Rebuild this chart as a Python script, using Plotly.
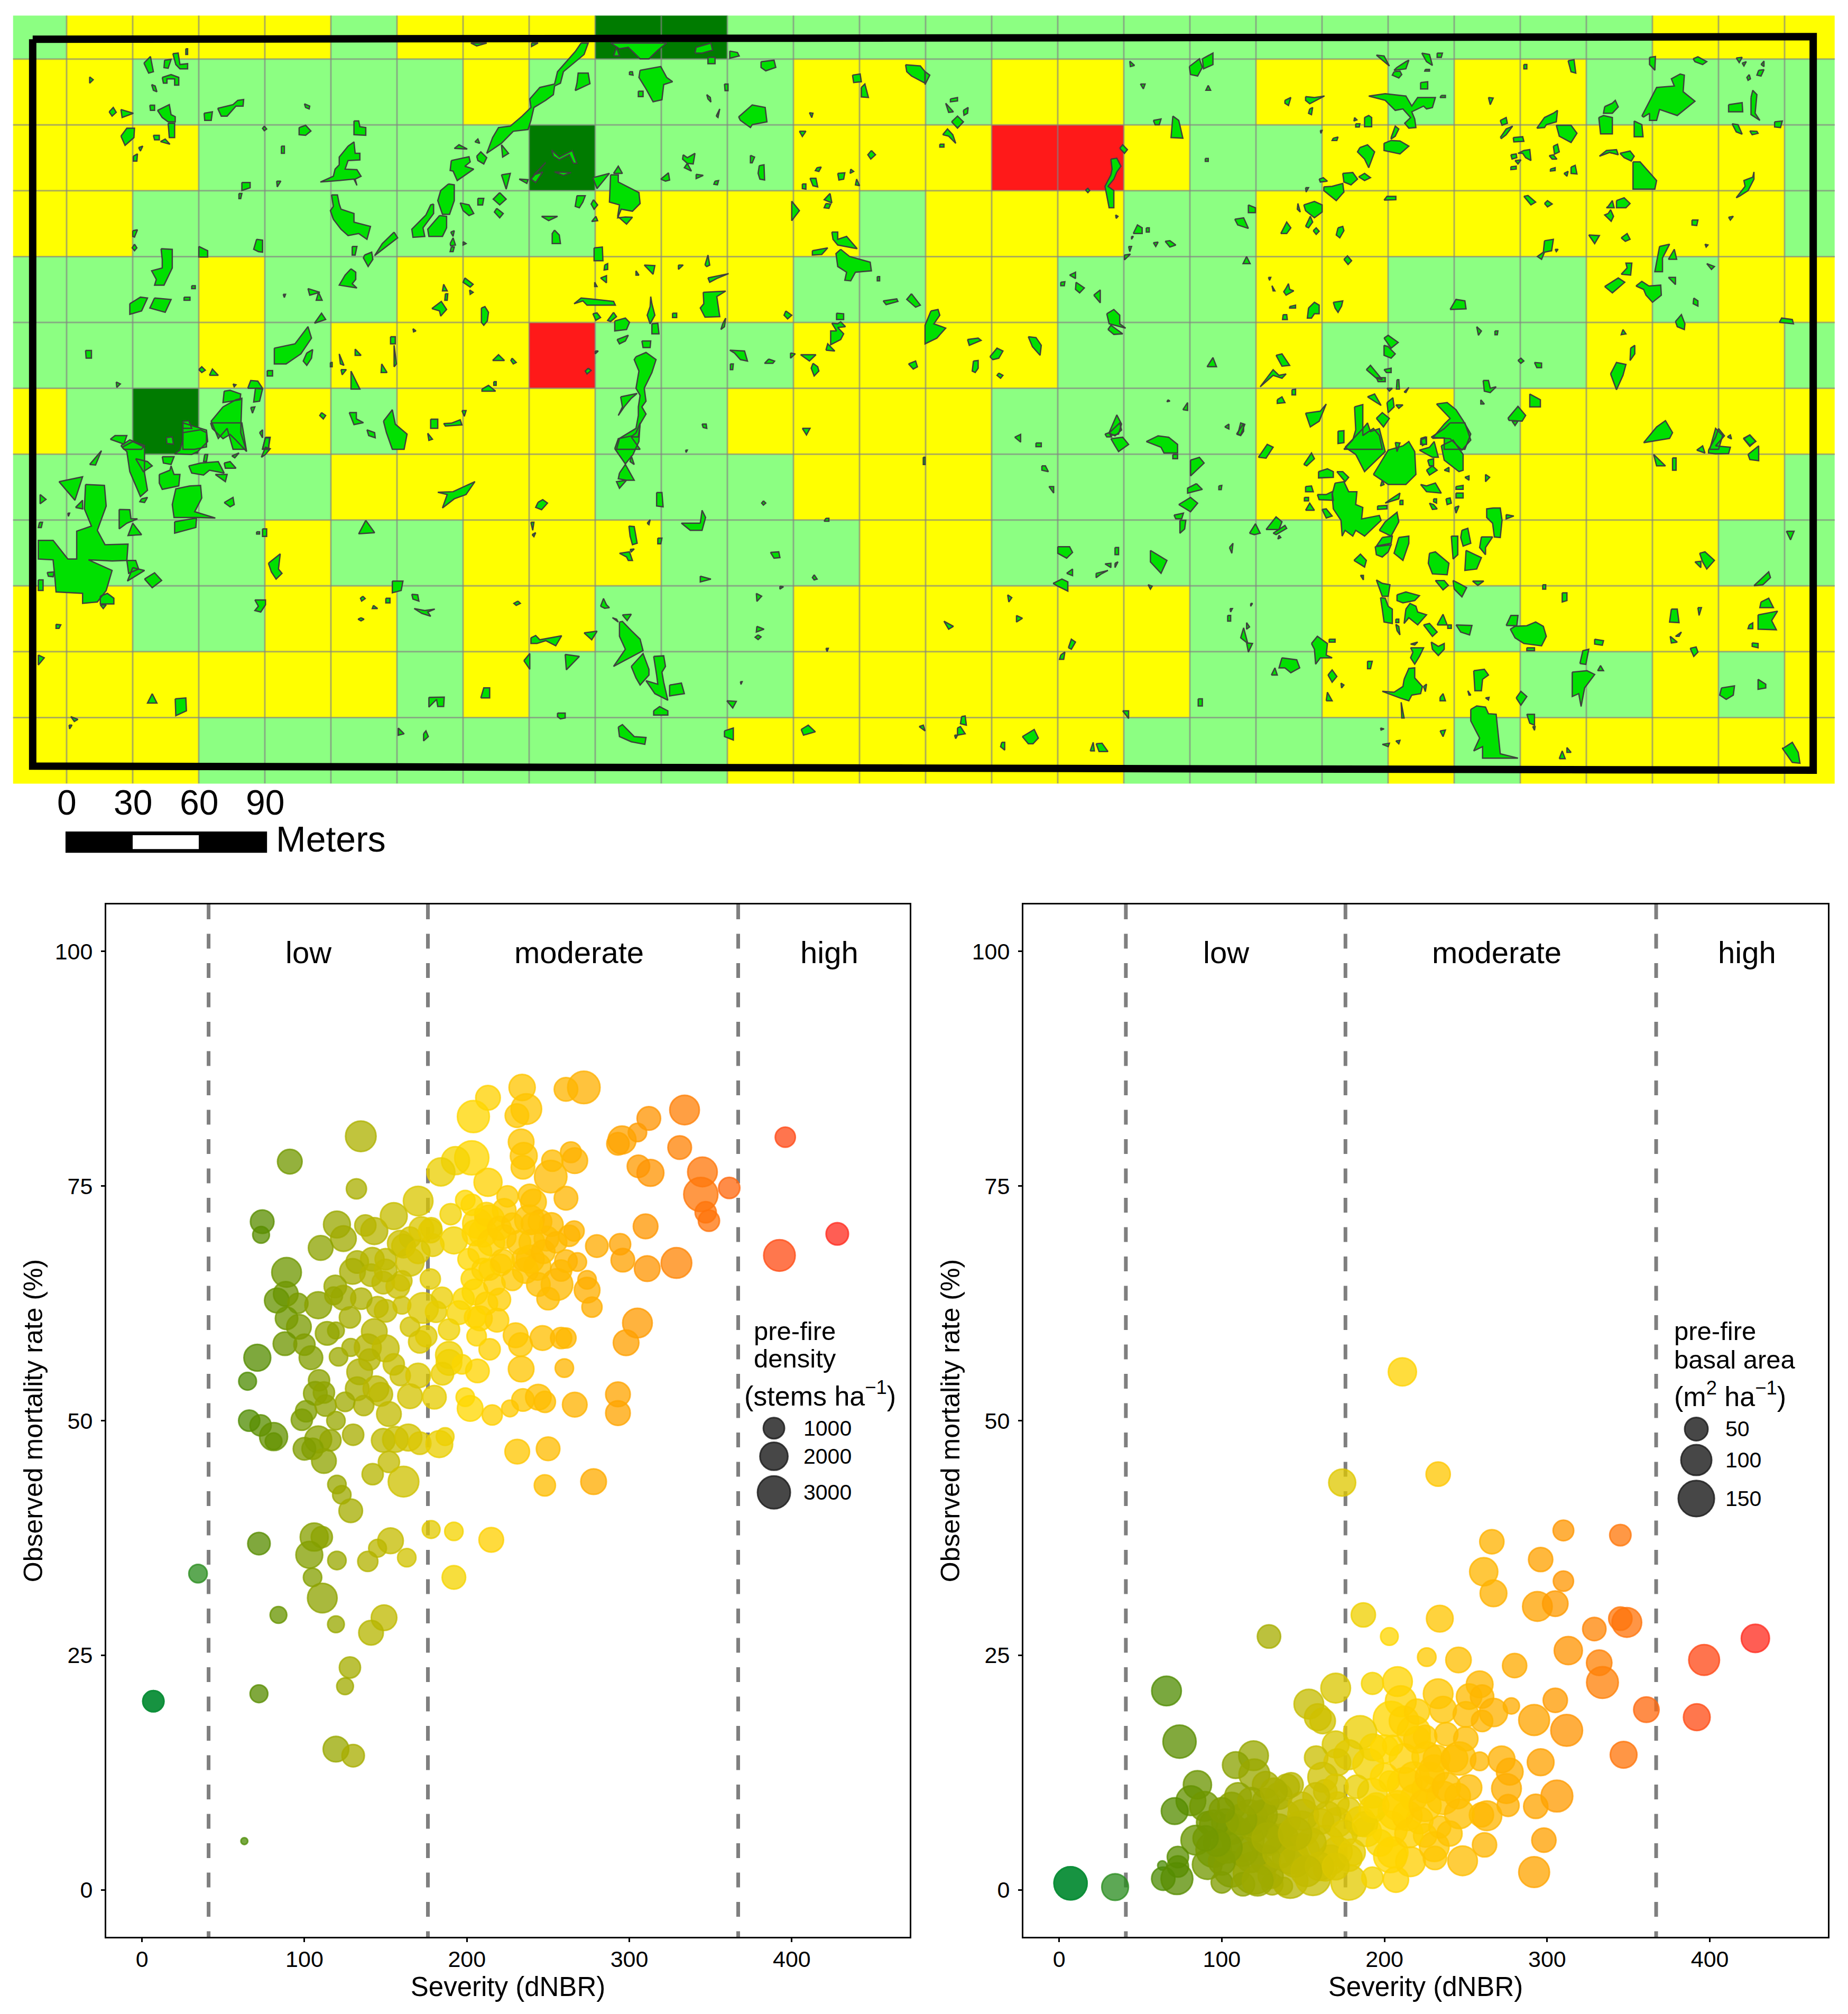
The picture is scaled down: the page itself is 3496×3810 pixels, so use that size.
import plotly.graph_objects as go

W, H = 3496, 3810

# ---------- study-plot map ----------
CELL_ROWS = [
    "LYYYYLYYYDDLLLLLLLLLLLLLLYYY",
    "YYLLLLLYLLLLYYLYYLLYYLYYLLLL",
    "YYYLLLLLDLLLYYYRRYLLYYYYYYYL",
    "YYLLLLLLLYYYYLYYYLLYYYYYYYYL",
    "LLLYLLYYYYYYLLYYLLLYYLLLYLYY",
    "LLLYLYYYRLLLYYYYLLLYLLLLYYYL",
    "YLDLYLYYYLLYYYYLLLLYYYLYYYYY",
    "LLLLLYYYYLLLYYYLLLLYYYYYYYYL",
    "LLLLYLLYYYLLLYYLLLLLYYYYYYLL",
    "YYLLYYLYYLLLYYYYYYLLYYLYYYYY",
    "YYYYYYLYLLLLYYYYYYLLYYYLLYLY",
    "YYYLLLLLLLLYYYYYYLLLLYLYYYYY",
]
CELL_CODE = {"Y": 1, "L": 2, "D": 3, "R": 0}
CELL_M = 30
X_EDGES = [-24.3] + [CELL_M * k for k in range(27)] + [802.8]
Y_EDGES = [CELL_M * k for k in range(12)] + [349.8]
BOUNDARY_X = [-15.4, 793.0, 793.0, -15.4, -15.4]
BOUNDARY_Y = [339.0, 340.2, 6.0, 7.9, 339.0]

# Stand patches, digitised on four map sheets (sheet units).
SHEET_NW = [
[798,150,808,160,825,150],[901,150,901,162,912,150],
[985,150,997,150,990,190,975,215,955,250,950,290,940,300,938,330,925,350,905,375,900,420,895,452,870,458,850,500,825,535,835,480,845,445,865,440,885,405,900,375,898,345,915,305,940,293,945,250,962,210,975,180],
[975,316,978,290,980,255,997,255,1000,292],[1035,150,1050,170,1065,165,1080,195,1085,205,1100,205,1115,175,1130,150],[1040,195,1045,165,1050,195],[1178,185,1180,165,1205,150,1208,175,1190,185],
[1237,178,1250,183,1253,195,1237,203],[1200,200,1212,200,1212,222,1200,222],[1290,215,1312,210,1315,235,1298,247,1290,235],[1535,226,1560,230,1568,250,1568,290,1545,265,1537,250],
[1445,262,1458,258,1460,285,1447,288],[1460,305,1466,293,1472,340,1460,338],[1067,250,1072,250,1073,262,1067,260],[1085,245,1120,232,1130,270,1140,285,1125,295,1122,348,1107,355,1095,310,1083,270],
[1082,318,1090,318,1090,337,1082,337],[1228,293,1234,293,1234,316,1229,316],[1198,330,1204,340,1205,356,1200,345],[1214,405,1220,380,1217,410],[1372,393,1378,395,1376,410],
[1252,408,1275,366,1297,375,1300,425,1275,435,1272,445,1255,420],[1355,458,1366,458,1360,476],[244,220,255,197,260,250,252,255],[279,210,290,207,285,238,278,236],[293,187,302,185,305,225,318,222,318,240,305,240,298,225],
[315,170,318,170,318,190,315,190],[152,268,158,278,152,290],[275,270,290,260,303,270,303,297,296,297,296,275,283,275,283,290,277,290],[257,295,263,300,266,320,260,315],
[185,390,192,375,197,392,190,405],[205,382,226,395,207,410],[254,367,262,367,262,385,255,385],[267,385,287,365,290,400,297,407,297,425,285,425,275,410],[285,430,296,430,296,480,287,480],[346,395,360,390,358,420,347,420],
[369,378,395,365,403,350,413,347,412,370,400,370,385,405,375,405],[516,362,525,370,524,380,518,375],[205,475,215,447,228,447,227,480,212,507],[260,472,270,472,270,488,262,488],[272,494,280,485,288,503],[235,515,242,510,238,527],
[226,545,233,537,232,562,226,562],[448,440,452,450,448,456,445,448],[507,445,518,437,527,457,518,472,507,470],[600,422,608,422,610,442,620,445,620,472,600,470],[477,510,482,510,482,535,477,535],
[590,510,600,495,602,535,610,535,610,558,590,560,585,590,605,592,612,615,602,625,605,647,600,625,575,630,543,635,565,615,568,590,575,575,575,548],
[410,637,424,637,424,655,410,665],[405,675,410,675,408,693,405,693],[469,632,476,632,470,652],[805,495,810,485,813,500],[770,518,778,505,792,520],[765,560,795,547,797,565,788,580,803,590,775,630,768,597,763,595],
[808,545,815,530,825,550,820,572,810,560],[850,505,862,535,852,548],[850,610,865,605,858,660],[880,625,895,627,893,640],[935,523,948,548,970,525,978,570,972,570,965,540,948,558,938,545],[925,567,905,610,920,600,908,637,900,625],
[940,600,968,602,955,612],[1005,620,1033,605,1012,658],[1040,605,1048,580,1055,605],[1035,610,1048,610,1048,635,1083,672,1085,710,1072,737,1053,730,1047,760,1060,757,1072,758,1062,782,1047,755,1050,715,1033,705],
[1158,540,1165,550,1178,535,1175,572,1165,570,1172,597,1160,585,1165,570,1157,555],[1120,625,1133,603,1135,628,1128,632],[1180,608,1192,612,1180,623],[1212,632,1218,630,1216,645,1210,643],[1272,542,1279,548,1275,568,1272,568],
[1287,578,1295,575,1296,628,1288,625,1285,605],[1477,525,1484,540,1476,555,1471,540],[1360,642,1366,642,1366,660,1360,658],[1373,622,1383,622,1386,652,1378,648],[1385,585,1392,583,1388,598,1382,595],[1420,605,1432,603,1430,625,1422,628],
[1442,590,1447,598,1441,605],[1452,625,1457,648,1450,645],[562,680,572,680,575,712,578,730,600,745,600,775,628,790,622,835,608,815,590,822,578,800,565,765,560,735,565,720],
[760,642,770,645,770,700,762,748,750,748,742,700,747,665],[735,712,735,745,717,795,720,825,700,828,698,800,722,750,730,715],[745,752,757,755,757,795,750,825,727,825,725,800],[780,708,795,715,803,745,795,752,785,735],
[810,692,820,692,818,715,810,715],[847,672,858,695,847,715,836,695],[842,727,853,745,847,760,838,740],[978,683,992,683,988,705,982,725,975,720],[1006,697,1013,715,1007,730,1002,712],[918,755,945,755,930,770],[1010,755,1013,770,1003,773],
[940,803,948,820,950,850,936,850,936,815],[225,805,233,802,228,827,225,825],[228,852,232,865,228,875,224,865],[273,868,292,870,292,935,278,995,262,995,265,975,257,945,275,935,275,905],[337,860,352,875,352,897,337,897],
[435,835,445,838,445,880,438,878,430,870],[597,860,605,860,602,890,597,890],[668,810,674,830,635,892,648,850],[618,890,630,880,632,905,624,930,616,900],[764,810,770,805,768,825],[763,850,768,830,772,855,764,858],[765,862,770,862,768,878,763,878],
[785,843,790,850,785,855],[1007,865,1021,862,1022,910,1007,910],[1025,925,1030,920,1030,940,1024,942],[1092,925,1110,927,1107,957],[1078,945,1083,960,1078,960],[1018,970,1028,962,1028,987],[1008,985,1012,1000,1008,1000],[1150,925,1158,925,1150,940],
[1195,925,1200,890,1203,925,1198,930],[1200,970,1235,955,1215,972,1203,985],[1192,1020,1230,1016,1215,1035,1220,1105,1195,1107,1187,1075,1193,1060],[973,1060,985,1040,1010,1045,1040,1052,1043,1065,995,1065,988,1050],
[1005,1095,1012,1092,1018,1108,1010,1118],[1040,1090,1045,1105,1035,1122,1030,1118],[1103,1035,1105,1060,1110,1100,1102,1130,1097,1100,1102,1070],[1140,1093,1147,1093,1147,1108,1140,1108],[1105,1130,1115,1128,1117,1165,1105,1165],
[1042,1120,1060,1110,1067,1125,1062,1150,1042,1155],[1046,1185,1065,1170,1060,1190,1050,1200],[1088,1190,1103,1190,1102,1213,1090,1213],[1225,1130,1230,1110,1228,1140,1222,1150],[1009,1225,1014,1225,1009,1235],[997,1285,1002,1293,995,1305,992,1295],
[1078,1245,1095,1230,1112,1255,1105,1300,1092,1355,1095,1400,1088,1420,1095,1445,1085,1480,1082,1525,1070,1525,1085,1568,1045,1568,1050,1530,1078,1495,1082,1450,1082,1420,1085,1380,1078,1355,1083,1295,1075,1255],
[1052,1385,1080,1373,1070,1390,1058,1420,1048,1450,1055,1420],[1190,1480,1197,1480,1198,1495,1192,1492],[1360,1495,1373,1495,1367,1518],[1497,1050,1520,1043,1522,1052,1502,1063],[1545,1025,1560,1065,1552,1072,1537,1045],[1487,965,1491,965,1491,980,1487,980],
[1410,810,1420,810,1420,835,1435,825,1453,868,1420,855,1412,835],[1377,875,1403,865,1393,888,1377,890],[1425,870,1440,895,1475,915,1477,945,1450,950,1442,980,1432,978,1435,950,1420,930,1417,885],[1342,702,1355,735,1342,770],[1407,675,1410,708,1397,697],[1400,710,1408,712,1405,727,1397,725],
[1332,1085,1342,1100,1335,1113,1329,1100],[1418,1093,1430,1095,1430,1115,1418,1115],[1410,1128,1420,1130,1425,1123,1433,1140,1420,1143,1430,1165,1425,1185,1408,1203,1408,1155,1418,1155],[1400,1222,1415,1225,1403,1200],[1340,1232,1348,1235,1340,1250],[1357,1238,1383,1238,1372,1260],
[1378,1268,1386,1280,1388,1295,1380,1312,1375,1285],[1540,1270,1552,1260,1555,1280,1548,1288],[1303,1253,1313,1260,1310,1268,1296,1268],[1237,1222,1262,1225,1267,1260,1255,1255,1245,1232],[1238,1270,1243,1270,1242,1290,1238,1290],
[145,1223,155,1223,155,1250,146,1250],[197,1333,204,1340,198,1352],[220,1060,238,1037,250,1040,240,1085,220,1097],[262,1040,290,1045,280,1090,254,1075],[312,1037,322,1037,322,1048,312,1048],[325,997,331,997,331,1007,325,1007],[480,1027,484,1027,482,1038],
[522,1007,542,1020,525,1030],[540,1020,546,1048,536,1048],[533,1128,545,1093,552,1115],[595,938,603,950,603,975,597,990,605,1005,575,995,585,960],[752,992,758,1015,750,1015],[755,1025,759,1025,758,1048,754,1048],[732,1077,748,1052,757,1080,747,1103,745,1085],
[788,970,802,992,797,1002,785,985],[796,1012,802,1020,797,1027],[816,1075,822,1070,828,1090,826,1120,820,1135,816,1125],[700,1147,705,1155,701,1158],[465,1215,500,1200,522,1140,528,1180,510,1235,485,1270,465,1270],[520,1232,530,1220,528,1250,520,1275,514,1260],
[575,1235,583,1275,577,1270],[560,1265,563,1265,563,1280,560,1280],[578,1290,587,1290,580,1308],[602,1218,612,1240,602,1240],[595,1295,608,1350,610,1358,595,1358],[662,1175,670,1175,670,1200,662,1200],[668,1205,672,1270,668,1280],[647,1270,656,1300,646,1300],
[835,1258,845,1238,855,1258],[868,1250,875,1265,870,1270,866,1258],[837,1332,841,1332,841,1345,837,1345],[817,1358,828,1345,840,1365,817,1365],[453,1293,462,1293,462,1312,453,1312],[337,1290,342,1280,348,1292,342,1300],[355,1310,360,1288,370,1310],[395,1340,400,1343,397,1350],
[420,1355,425,1328,437,1330,445,1355],[433,1355,445,1358,440,1400,430,1403],[380,1365,390,1362,408,1375,407,1395,378,1405],[378,1420,400,1395,410,1390,408,1510,417,1568,395,1568,385,1495,370,1530,358,1470],[425,1422,432,1420,428,1442],[440,1510,445,1500,445,1528],[450,1528,457,1528,455,1568,445,1568],
[310,1470,320,1468,325,1495,310,1495],[545,1440,552,1450,548,1462,542,1450],[592,1440,604,1440,604,1462,616,1475,600,1482],[622,1500,635,1510,636,1528,625,1520],[650,1470,665,1430,670,1480,690,1515,685,1568,665,1568,655,1510],[730,1463,742,1463,742,1495,730,1495],[752,1478,765,1477,780,1465,783,1483,755,1487],
[783,1433,790,1433,787,1453],[725,1512,733,1533,727,1537],[282,1527,292,1525,294,1550,283,1548],[310,1510,340,1500,350,1510,350,1560,330,1568,310,1568],[187,1533,195,1520,215,1520,210,1550],[205,1555,220,1535,245,1555,240,1568,210,1568],
]
SHEET_SW = [
[310,0,350,25,352,65,335,100,325,110,296,108,305,95,310,60],[357,0,410,0,418,100,400,60,390,40,378,55,360,20],[393,115,405,105,398,122],[347,110,352,110,350,135,345,135],[443,120,450,85,458,90,450,110],[450,50,458,50,455,90,445,90],[152,145,172,97,162,147],
[207,85,225,65,245,85,245,175,250,235,238,257,220,170,215,100],[230,125,250,135,258,150,243,170],[275,118,295,118,290,145,277,140],[270,180,288,165,290,150,295,180,305,180,303,220,275,232,270,210],[320,150,340,140,370,135,380,175,355,165,345,182,325,175],[380,140,390,135,400,158,382,158],[365,180,385,180,382,205],
[100,205,140,188,127,270],[145,215,177,218,180,290,165,375,178,425,217,423,215,480,190,482,150,478,190,515,185,550,180,585,165,625,140,630,140,595,95,590,93,540,90,478,65,475,65,410,90,410,115,475,130,475,130,378,155,360,143,300],
[128,295,140,270,140,300],[68,250,78,267,68,282],[115,315,118,315,116,326],[322,220,340,218,342,262,330,310,365,332,335,330,295,330,292,285,298,230],[202,302,220,303,222,335,233,335,215,350,202,370],[225,350,240,390,217,393],[296,345,333,332,332,365,296,385],[240,265,250,260,245,278,237,275],[380,278,395,260,397,285,390,293],[67,347,72,347,70,365,65,365],
[445,370,452,370,452,396,445,396],[435,380,440,380,440,388,435,388],[620,340,635,383,608,387],[455,490,475,457,472,510,478,525,468,545,460,520],[225,505,245,515,216,552],[215,480,230,480,235,510,218,525],[245,545,262,523,274,550,258,575],[80,522,92,520,90,537,82,535],[65,548,73,548,73,585,65,585],[170,605,182,595,193,612,193,632,170,632],[170,635,180,635,175,648],
[432,618,450,618,450,635,442,660,432,655,438,640],[95,703,103,705,100,717,95,717],[65,810,75,820,65,845],[120,1025,132,1035,126,1042],[117,1055,122,1055,118,1068],[258,945,266,978,250,978],[297,963,315,960,316,1005,298,1022],[665,552,683,552,680,585,665,593],[615,605,619,613,613,622,611,612],[654,612,661,612,661,628,654,628],[633,637,640,648,631,648],[612,680,617,685,612,691,607,685],
[698,598,708,600,710,622,700,615],[702,648,720,655,737,650,725,660,730,675,715,665],[742,242,768,240,805,205,790,250,770,265,750,297,758,250],[912,277,920,268,928,280,918,303,908,295],[900,347,905,347,903,375],[902,390,908,383,905,397],[878,622,882,630,875,637,871,630],[900,750,908,742,915,757,935,750,952,743,942,778,925,760,910,770,900,770],[990,733,1012,727,1003,757],[888,830,898,805,898,860],[958,808,982,815,960,862],
[1018,640,1023,613,1028,635,1033,645,1025,647],[1055,670,1070,668,1063,690],[1038,680,1045,685,1048,695],[1050,695,1055,693,1070,725,1085,755,1090,795,1040,850,1060,790,1050,745],[1070,850,1090,805,1100,860,1100,880,1085,915,1078,890],[1108,815,1125,813,1128,850,1122,870,1125,905,1132,968,1110,945,1095,900,1115,912,1113,880],[1135,915,1155,908,1160,945,1135,953],[1108,1005,1118,990,1132,1005,1132,1020,1108,1020],[945,1013,958,1013,958,1030,950,1033,945,1025],
[815,960,820,925,830,925,830,960],[727,958,753,957,752,990,742,990,740,965,727,992],[1113,243,1122,243,1124,293,1113,290],[1187,350,1190,305,1196,330,1190,375,1170,375,1155,350],[1294,272,1298,280,1294,287,1291,280],[1400,333,1405,333,1405,343,1397,343],[1066,360,1075,362,1080,420,1072,425,1068,395],[1097,350,1102,338,1100,355],[1115,402,1122,402,1120,422,1115,422],[1050,455,1067,450,1072,480,1065,480,1062,468],[1068,442,1075,440,1070,450],
[1306,452,1320,450,1322,470,1312,472],[1380,530,1385,545,1380,548,1377,540],[1187,535,1205,545,1187,555],[1282,595,1291,605,1283,623],[1322,570,1328,572,1322,580],[1283,710,1295,720,1282,730],[1285,740,1290,747,1285,756,1280,748],[1400,787,1404,787,1402,798],[1255,903,1258,903,1256,913],[1232,970,1248,972,1242,995],
[1228,1075,1243,1065,1243,1107,1228,1095],[1048,1062,1055,1053,1075,1095,1095,1098,1093,1122,1070,1113,1050,1095],[675,1065,685,1085,675,1090],[718,1085,722,1075,726,1095,718,1110],[1358,1070,1370,1055,1382,1078,1362,1090],[1558,1060,1565,1055,1568,1075],[1565,120,1568,120,1568,145,1565,145],[1162,95,1165,95,1163,103],[1042,90,1048,55,1072,45,1078,35,1085,0,1083,65,1073,110,1060,143],[1070,115,1075,145,1068,135],[1050,175,1060,145,1075,200,1062,200,1050,228,1045,205,1062,200,1048,195],
]
SHEET_NE = [
[448,232,465,205,470,235,462,265,450,260],[470,205,488,185,488,225,472,240],[347,213,355,228,348,232],[365,293,373,293,370,310],[480,298,484,315,476,315],[765,192,778,195,787,230,775,210],[800,235,815,215,820,210,815,240,795,245],[795,250,805,248,808,260,803,272,792,262],[842,185,855,190,860,228,850,215],[868,185,877,185,875,200,868,200],[848,242,855,242,855,248,847,248],[840,288,852,285,852,310,840,310],[875,333,882,333,882,340,873,340],
[610,350,620,340,616,368,610,360],[645,337,660,340,677,335,652,362,645,350],[652,380,657,375,655,400,650,395],[752,335,780,327,815,335,825,370,835,340,865,340,860,375,850,380,845,370,825,390,830,415,832,445,820,447,813,430,823,410,810,380,797,385,780,350],[728,410,732,418,727,422],[745,410,752,403,757,410,757,442,745,442],[730,432,737,432,736,443,730,443],[955,340,963,342,958,365],[1015,225,1020,225,1020,240,1015,240],[1090,212,1100,208,1103,255,1095,250],
[975,420,985,410,987,430,978,437],[1037,447,1050,410,1065,395,1072,385,1070,425,1053,435,1050,445],[1070,437,1095,437,1105,465,1095,497,1075,475],[1142,410,1150,403,1165,410,1165,467,1145,467],[1152,372,1165,360,1170,350,1175,373,1165,395,1150,395],[1202,422,1215,435,1217,477,1202,477],[1228,200,1238,197,1237,245,1228,225],[1302,205,1310,198,1325,215,1318,225,1305,215],[1375,202,1385,200,1380,218],[1385,220,1392,215,1388,230],[1417,225,1422,213,1422,232],[1413,245,1422,243,1417,265,1410,262],[1397,260,1399,275,1395,280,1393,270],
[1215,405,1240,305,1270,300,1265,275,1280,258,1287,262,1285,320,1305,353,1275,403,1245,382,1240,420,1228,420,1228,395,1218,408],[1362,365,1385,358,1386,390,1362,390],[1400,340,1403,315,1410,330,1407,395,1415,420,1400,400],[1440,425,1453,422,1450,445,1440,443],[1368,432,1378,435,1385,468,1375,460],[1398,457,1410,458,1412,465,1402,470],[387,420,400,415,397,435,390,435],[420,405,430,420,437,482,417,480],[975,480,985,450,996,440,985,470,977,483],[997,480,1013,477,1015,493,998,495],
[1065,510,1072,503,1075,530,1067,538],[1058,543,1065,540,1071,555,1063,555],[1005,535,1015,525,1025,522,1027,560,1018,550,1013,535],[993,540,1002,537,1003,550,995,555],[1000,560,1010,558,1005,572],[993,582,1002,580,1002,590,993,592],[1060,590,1068,585,1068,595,1060,597],[1083,605,1090,598,1088,615],[1095,583,1102,577,1105,607,1095,605],[1143,545,1155,525,1172,522,1175,540,1160,532],[1178,535,1195,527,1202,545,1197,562,1185,550],[1200,565,1212,565,1240,630,1237,660,1200,660],[1380,685,1375,690,1390,650,1388,630,1403,618,1405,600,1405,625,1395,665],
[790,480,797,440,803,450,797,475,790,485],[692,482,700,478,698,490,690,490],[670,455,673,455,671,465],[778,500,790,490,805,492,820,510,805,537,790,530,778,525],[737,515,750,505,762,530,752,585,745,555,733,530],[708,605,725,602,733,625,722,645,710,635],[735,617,745,605,755,620,745,630],[668,625,675,620,682,632,670,635],[645,655,650,655,646,670],[676,652,690,650,708,640,710,670,697,700,676,665],[778,698,783,685,798,685,798,697],[330,517,335,505,343,522,338,535],
[315,555,325,552,332,580,325,600,320,625,310,650,320,665,320,725,312,725,305,650,315,610,317,590],[272,663,276,657,279,665,276,672],[323,750,327,755,324,762],[475,553,480,553,480,563,475,563],[30,470,38,450,47,470,52,500,40,475],[25,503,32,503,32,513,25,513],[35,360,48,390,40,392],[43,345,55,340,55,352,43,355],[65,385,73,375,72,395,66,402],[45,425,55,405,65,425,55,447],[0,250,8,262,0,295],
[548,715,560,725,560,742,548,742],[642,715,660,703,673,715,673,740,660,760,645,735],[632,710,636,740,631,730],[525,765,540,760,548,797,530,785],[645,790,653,755,657,775,650,795],[603,815,613,775,620,795,613,815],[658,805,663,795,668,807,663,818],[700,795,708,790,710,805,703,830,697,820],[353,815,360,785,368,795,368,815],[375,795,380,795,380,810,375,810],[350,825,353,825,350,835],[345,860,350,860,347,878],[387,847,395,845,391,860],[407,842,415,840,425,855,415,862],[338,890,348,887,338,907],
[545,895,551,920,539,920],[710,905,716,893,723,910,717,923],[1015,685,1022,682,1035,705,1027,715],[1050,710,1055,700,1063,712,1055,722],[1158,720,1165,700,1168,725,1155,725],[1172,700,1185,690,1195,710,1188,725,1172,725],[1158,745,1162,732,1167,755,1163,772,1152,750],[1300,768,1310,768,1308,787,1300,785],[1362,758,1370,755,1365,768],[1125,820,1143,822,1135,850],[1180,830,1190,815,1195,835,1187,842],[1322,852,1327,855,1324,862],[1068,870,1073,870,1070,878],[1050,840,1065,835,1062,875,1050,880,1045,905,1038,895,1048,880],[1245,860,1262,852,1250,900,1250,948,1237,948],[1260,905,1270,870,1274,905],[1325,920,1338,930,1333,940],
[1180,957,1190,935,1188,918,1198,918,1196,960],[1152,1000,1175,970,1186,985,1165,1022],[1205,998,1215,982,1227,998,1247,995,1248,1030,1233,1055,1222,1030,1218,1010],[1260,968,1272,968,1272,993],[1303,1040,1310,1050,1310,1068,1302,1060],[245,960,255,950,255,972],[230,985,237,983,236,997,230,997],[256,985,270,1005,262,1022,255,1010],[286,1030,297,1012,297,1057],[582,968,586,968,584,978],[588,997,593,1015,590,1015],[612,1005,616,990,618,1010,625,1015,612,1030,608,1018],[618,1070,628,1065,628,1075,618,1075],[650,1075,660,1055,668,1065,668,1095,660,1095,655,1110,648,1110],[607,1098,613,1098,614,1115,606,1115],[692,1055,708,1050,706,1068,700,1090,695,1075],
[890,1080,900,1045,915,1050,917,1078],[1448,1125,1452,1110,1470,1115,1472,1130],[1272,1122,1282,1098,1288,1130,1287,1150,1275,1140],[308,1095,320,1080,330,1100,330,1130,340,1145,312,1130],[310,1150,315,1135,335,1165,320,1167],[10,1085,22,1080,25,1100,15,1130,35,1145,20,1180,0,1200,0,1135],[72,1185,90,1180,95,1188,75,1205],[175,1175,188,1178,197,1205,195,1240,182,1210],[110,1245,122,1215,132,1225,125,1250,115,1255],[82,1260,90,1258,90,1285,85,1300,80,1295],[125,1302,132,1310,128,1320,122,1310],
[478,1280,488,1248,494,1280],[595,1240,605,1235,618,1275,605,1278],[568,1350,590,1290,600,1310,612,1305,605,1320,590,1310],[935,1140,943,1155,938,1170],[966,1155,971,1155,970,1168,966,1168],[778,1180,785,1170,802,1195,790,1215],[778,1205,785,1210,797,1235,790,1250,778,1240],[778,1290,790,1285,790,1300,782,1300],[748,1290,755,1275,775,1325,765,1320],[765,1318,780,1318,780,1332,768,1332],[800,1325,803,1325,804,1358,799,1358],[783,1355,792,1355,787,1365],[812,1368,820,1352,815,1370],[1005,1258,1010,1250,1015,1260,1010,1268],[1033,1265,1045,1267,1045,1283,1037,1283],[1183,1150,1188,1165,1180,1168],[1196,1215,1203,1205,1203,1235,1195,1258],[1162,1305,1172,1265,1188,1272,1183,1310,1172,1360],[946,1328,955,1328,958,1355,968,1350,958,1370,948,1365],
[622,1360,628,1358,628,1378,622,1378],[597,1395,605,1385,610,1405,597,1408],[412,1395,415,1400,410,1402],[437,1430,445,1405,445,1432],[645,1442,670,1435,680,1410,668,1470,653,1490],[750,1385,762,1375,773,1415,757,1395],[783,1405,793,1388,795,1420,785,1440],[798,1413,810,1413,803,1425],[765,1460,775,1440,787,1460,777,1490],[728,1420,742,1412,742,1520,760,1495,770,1520,775,1568,710,1568,725,1535,730,1500],[700,1505,710,1503,710,1545,700,1548],
[867,1410,885,1405,900,1430,912,1468,925,1515,915,1568,880,1568,880,1528,860,1530,880,1480,890,1460],[840,1530,848,1525,850,1548,843,1555],[1025,1375,1043,1395,1043,1420,1025,1420],[988,1460,1005,1418,1018,1450,1012,1470,990,1467],[995,1470,1005,1470,1000,1485],[942,1395,948,1410,942,1410],[1218,1545,1240,1490,1255,1468,1267,1510,1262,1530],[312,1510,325,1448,333,1480,328,1515,315,1520],[305,1515,312,1510,316,1525,308,1525],[508,1490,515,1480,515,1497],[528,1515,540,1478,540,1505,535,1520],[1330,1568,1340,1495,1352,1520,1345,1568],[1387,1530,1398,1518,1408,1540,1398,1558],[1360,1525,1365,1518,1367,1532],
]
SHEET_SE = [
[152,50,162,40,162,67],[188,70,197,70,197,83,188,83],[530,40,535,0,542,5,535,42],[312,35,330,0,333,25,322,45],[315,55,335,50,345,75,328,100,322,80],[375,65,395,45,413,50,428,75,428,105,405,105,400,85],[420,110,428,110,428,125,420,125],[565,120,580,75,590,85,578,123],[642,145,655,105,660,125,647,150],[450,130,465,120,473,140,450,185],[198,150,204,150,209,170,198,165],[210,222,218,222,218,245],[460,212,470,232,445,245,445,228],[498,220,503,218,502,233,498,233],[430,285,450,260,462,280,450,310],[422,322,438,315,435,335,425,335],[432,340,442,340,440,370,432,385],
[712,85,742,20,750,0,755,30,770,20,780,100,745,170,730,110],[760,180,785,95,810,80,820,65,830,100,832,180,815,215,785,215],[797,68,805,70,800,100],[775,200,778,215,772,220],[838,95,855,85,863,65,870,120,860,120],[840,60,850,50,850,75,840,75],[875,80,895,60,905,90,912,110,912,165,905,170,880,130],[890,0,915,0,925,60,910,95,890,55,858,50,880,20],[852,130,862,125,862,150,855,150],[850,165,860,150,868,165,855,182],[880,165,888,155,888,170],[915,190,922,185,922,200],[950,180,957,190,950,205],[840,215,850,220,865,210,875,245,850,240],[900,222,912,218,912,232,900,232],[900,245,912,245,912,262,900,262],[790,265,805,245,803,265,780,280],[805,270,810,270,810,285,805,285],[862,265,867,265,867,280,862,275],[883,265,890,262,892,280,885,285],[855,280,862,285,868,300,860,302],[898,295,905,290,900,315],
[667,170,682,160,692,170,692,190,667,192],[698,170,708,170,718,190,712,205],[645,222,655,220,658,240,645,240],[665,250,680,250,690,240,692,270,668,268],[643,260,650,260,650,272,643,272],[645,305,652,280,660,305],[673,302,680,300,690,325,680,332],[695,210,710,205,718,240,732,240,730,285,742,295,740,335,770,323,773,340,745,395,730,375,725,395,712,375,707,395,705,340,692,300,690,250],[767,290,783,288,783,300,767,302],[770,375,780,345,800,312,803,345,790,395],[963,297,975,297,978,340,975,400,965,398,962,350,952,330,952,300],[985,320,998,325,985,335],
[578,372,595,328,605,345,600,372],[590,385,610,358,613,368,595,390],[600,392,603,400,598,405],[550,385,560,352,568,385,558,390],[775,400,792,395,790,420,765,430],[763,432,790,425,785,450,775,468,765,460],[803,400,820,395,820,420,810,480,795,455],[892,395,903,395,903,460,895,475],[910,375,920,368,925,420,912,430,908,400],[943,398,962,398,950,435,950,460,940,435],[917,445,943,470,935,510,915,515],[855,455,865,450,888,490,885,530,860,527,853,490],[727,480,738,458,748,480,745,503,735,490],[738,532,743,532,743,548],[765,548,775,560,788,565,785,605,775,605],[865,550,880,550,887,567,878,583],[895,550,905,560,918,575,910,607,897,580],[928,552,947,552,937,567],[1047,565,1052,565,1052,580,1047,580],[1080,593,1088,593,1088,620,1080,625],
[800,600,815,590,838,603,830,620,810,628,800,620],[772,610,780,612,785,640,792,650,792,700,778,695,775,650],[815,650,822,630,832,640,835,660,850,670,835,705,820,680,812,700],[798,685,803,685,803,697,798,697],[868,705,878,668,885,705],[886,705,892,705,892,717,886,717],[845,705,855,700,868,730,860,745],[900,705,927,707,923,740,908,730],[985,707,993,672,1005,672,1003,708],[992,720,1000,710,1020,708,1035,695,1048,710,1053,745,1045,778,1015,770,1000,750],[1020,785,1033,785,1033,795,1020,795],[1135,755,1150,760,1148,776,1135,772],[798,703,803,710,805,740,800,725],[823,772,835,765,830,775],[823,785,845,785,838,815,830,842,823,820,827,800],[858,765,870,780,880,770,880,790,870,812,860,790],[655,770,665,745,682,770,680,810,690,820,670,820,662,842,660,790],[685,755,695,755,695,765,685,765],
[605,820,630,827,635,855,620,872,610,855,600,855],[587,880,593,855,597,880],[683,880,690,862,698,885,690,905],[705,908,710,915,706,925],[680,970,682,940,690,970],[750,832,758,832,755,858,750,858],[812,895,820,857,830,855,830,890,843,920,840,945,825,950,820,970,805,960,775,937,795,940,810,920],[845,920,850,912,848,938],[807,975,812,1030,808,1030],[873,958,878,945,882,970,873,970],[930,865,948,860,955,880,945,895,943,935,932,935],[920,935,925,950,922,950],[950,960,956,958,955,967],[1002,960,1010,937,1020,955,1010,985],[925,1000,935,988,950,992,955,1015,968,1017,975,1155,1005,1170,945,1170,945,1130,930,1145,940,1100,925,1040],[1020,1017,1033,1017,1033,1055,1025,1048],[1030,1060,1034,1060,1033,1073],[873,1075,882,1072,878,1095],[772,1065,778,1068,773,1072],[798,1110,805,1108,803,1120],[775,1122,787,1118,785,1130],[1075,1172,1080,1145,1085,1172],[1088,1133,1095,1150,1088,1150],
[1097,870,1122,865,1135,878,1118,925,1112,990,1108,945,1097,955],[1110,840,1115,795,1125,790,1120,843],[1140,865,1145,847,1150,865],[463,963,470,963,470,988,463,988],[335,1005,345,1005,345,1032],[32,692,48,710,40,720],[140,600,147,610,142,625],[155,672,165,682,155,695],[517,648,521,648,518,660],[513,672,518,672,518,692,513,692],[552,630,555,630,552,640],[545,697,550,712,545,720],[540,715,547,770,535,750],[545,768,555,770,548,800],[243,785,248,755,255,765,248,790],[230,810,237,800,235,825,228,825],[378,565,385,570,382,580],[217,560,232,545,242,555,242,587,225,570],[240,525,250,510,250,533],[290,525,310,515,298,528,290,540],[305,492,315,490,315,505],[322,490,327,485,322,505],[225,432,245,432,250,452,240,472,225,455],[322,435,328,435,328,460,322,460],[382,445,410,480,400,525,382,485],[516,435,522,420,520,455],
[62,1025,68,1023,70,1055,60,1050],[55,1065,60,1060,68,1085,55,1090],[50,1090,55,1090,52,1102],[165,1095,185,1070,192,1100,183,1120,175,1120],[130,1115,135,1115,135,1142,128,1130],[280,1145,285,1115,287,1145],[290,1120,300,1118,310,1147,295,1147],[1235,110,1255,150,1240,150],[1267,122,1273,122,1273,165,1267,165],[1308,95,1318,80,1322,105],[1328,95,1340,50,1345,20,1355,45,1340,80,1365,85,1362,107,1340,108,1328,105],[1388,55,1398,42,1408,65,1398,78],[1395,110,1413,80,1413,132,1398,128],[1460,378,1473,378,1467,408],[1313,455,1322,450,1338,480,1325,510,1318,485],[1305,485,1315,483,1315,505],[1405,568,1430,520,1433,540,1420,565],[1265,650,1275,650,1278,697,1262,695],[1310,645,1316,645,1312,672],[1417,625,1430,612,1438,645,1415,645],[1412,670,1445,657,1435,690,1443,722,1412,720],[1397,705,1403,698,1403,718,1395,718],[1263,745,1275,765,1265,768],[1272,745,1282,730,1278,745],[1297,787,1307,782,1310,800,1303,815],[1402,768,1412,770,1412,785,1402,780],[1350,925,1372,918,1370,950,1358,965,1347,950],[1412,895,1425,912,1425,925,1412,930],[1455,1135,1470,1115,1480,1150,1483,1188,1470,1185,1453,1135],
]

# ---------- scatter data ----------
dnbr_a = [272,261,234,213,204,236.6,230.8,334,312,305,295.5,293,331,396,134.7,91,233.4,235,234.5,264,266.4,252.6,203,193,184,251.6,305.6,313,345,344,361.5,347,349,213,132,170,199,225,238.6,261,241,190,223,214,206.5,238.5,245,252,266,263,310,74,73.3,120,124,110,137.5,143,155,159,165,172,177.5,179,192,161,210,223,249,280,294.3,296,311,329,392.4,428,235,239,243.5,261,268,221,214,201,132.5,141.8,150,165,129.6,141,177.5,89,88.5,83,96,108.5,119,124,118,148.5,157.5,160,184.7,145,150,160,173,181,195,205,220,274,274,255.5,277,203,210,89,96.6,119.4,114,143,88,100,71,104,121,128.5,139,150,171,189,189,208,218.5,230,233,246.5,261,258,305,298,214,189,206.5,233.4,260,65,109,134,159,170,106.7,132.5,144,147,165,180,199,202,215.6,226.5,234.5,244,248,266.4,293,293,101,113,136.5,152,119.4,66,73,98.4,81,81,108.5,116,105,112,148.5,156,164,171,183,186.6,152,142,161,120,123,128.5,231,250,248,278,178,192,215,153,145,106,110.7,72,103,120,139,163,192,105,34.5,111,84,119.4,149,141,128,125,72,7,119.4,130,63,
           205,215,212,220,208,228,240,247,255,236,244,228,217,212,205,198,206,240,232,258,250,203,222,170,178,150,135,128,175,165,140,155,125,112,100,130,185,197,7]
mort_a = [85.5,85.3,85.5,84.4,82.4,83.2,82.5,83.1,82.2,80.7,79.9,79.5,79.1,80.2,80.3,77.6,79.7,78.2,77,78.6,77.7,77.7,78,77.7,76.5,76,77.1,76.4,76.5,74.1,74.8,72.2,71.3,75.4,74.7,73.4,73.5,73.9,74,73.7,73.3,72,72.4,71.4,71,71.4,71.2,70.9,70.2,69.7,70.7,71.2,69.8,70.9,69.4,68.4,70.8,70.2,71.8,68.9,69.5,70.4,70.2,68.7,69.2,68.6,70,69.6,69.4,68.6,68.8,67.1,66.2,66.8,67.6,69.9,67.2,67.2,66.4,67,66.9,66.6,66.1,67.2,66.9,67.2,67.2,66.9,65.9,65.5,65.1,65.8,63.5,62.8,62.5,62.3,64.3,63.1,63.3,64.7,64.3,64.9,63.1,62.1,61.7,62.3,62,61.6,61.5,63.7,62.9,65,63.9,64.5,62.1,65.1,66.1,60.9,60,59.6,59.3,59.5,58.2,58.1,56.7,56.7,56.8,57.8,57.8,57.7,58.4,59.7,57,60.9,60.7,59.1,58.1,58.8,58.8,58.8,60.4,58.3,57.6,56.2,55.3,55.5,55.6,54.2,54.3,55.2,54.8,54.8,52.9,53.4,53.4,52.8,52.6,52.5,52.5,51.3,50.6,51.3,52.2,52.5,52,51.7,52.8,50.8,51,51.6,51.6,50.7,50,50,49.5,50.1,48.3,47.8,48,47.9,47,45.7,47.9,48,48.2,47.6,47.5,48.3,45.6,44.3,43.5,43.2,42.1,40.4,46.7,47,43.1,43.5,38.4,38.2,37.3,37.2,36.4,37.6,37.6,36.9,35.7,35.1,35,35.4,33.3,33.3,33.7,31.1,29.3,28.3,29,27.4,23.7,21.7,20.9,20.1,15,14.3,5.2,
          70,69,72,70.5,68,71,69,68,69,66,64.5,65,64.5,62.5,61,63,59,71,69,66,63,73,67,68,70.5,66,63,61,59,60,56.5,56,52,53,47,48.5,55,56,20.1]
density = [2900,1300,1700,1450,2800,2500,1300,2300,1300,700,2000,1150,1300,880,2500,1450,1600,1800,1300,950,1600,1000,3300,2000,2000,2900,1150,1800,2300,3300,1000,1000,1000,2000,880,2300,800,1000,1150,1300,1600,1000,1300,2300,2300,2300,1300,1300,880,1000,1450,1300,550,1800,1600,1450,1000,1800,1800,1600,1000,1450,1300,1150,1800,1300,2000,1300,1450,1150,1000,1300,1600,2500,2700,1150,1300,2000,1800,1150,700,1000,1000,1000,1150,1300,1000,2000,1600,1150,880,2300,1450,1450,880,1800,1150,1450,640,1150,1300,880,1000,1000,1150,640,2500,1000,1300,1600,1150,700,1600,2700,880,1000,1150,1150,1450,550,1300,1600,1300,1000,1800,1300,700,640,1800,1800,1150,1000,1800,1450,1300,1450,1300,1450,880,1000,2300,1600,1000,1600,1300,1600,700,640,1000,1600,880,1450,1300,1300,1600,1300,1450,1300,700,1600,880,550,1150,1600,1000,1450,1450,1450,1000,1000,880,1450,700,1000,1000,1000,2000,550,1800,1000,1000,1450,1300,1600,1800,1150,1800,640,1000,1000,2500,700,700,1300,1450,1300,1000,1600,640,700,1450,1600,640,2000,1000,1150,1800,700,880,700,1300,700,700,2300,550,550,1600,1450,1000,550,640,1000,1600,1150,60,
           1600,1800,1300,1300,1300,1000,1600,1300,1000,1600,1300,1000,1000,1150,1000,1000,800,1000,1300,1000,1150,1000,1300,1300,1000,1150,1000,1000,1000,800,1000,1000,800,1000,1150,1000,1150,800,1000]

dnbr_b = [211,174,233,266,310,345,296,261,310,267,294,305,187,234,345,349,329,129,203,428,396.5,313,226,245.5,280,332,334,66,170,153.5,192.6,208,233,258.5,252,260,278,305,361,392,159,162,210,204,236,250,267,260,292,312,185,218,225,238,250,170,193,205,347,74,119.5,108.6,158,178,171,190,226,246,258.5,272,277,296,120,127,162,230.6,85,142.6,135,163.6,203,212.5,225,252,275,306,192.6,236,245,81,89.4,71,106,124,178,276,293,263,259.6,246,207,91,106,136.5,149,171,189,203,234,225,84,113,298,261.5,73,95,149,127,164,178,203.5,216,230.6,231,248,91,106,120,142,156,131,138,178,192.6,207,292,63.4,73,64,72.4,7,34.4,100,113,163.6,171,138,117,102,127,149,171,185,161,218,214,221.6,192.6,142,127,113,167,135,120,
          95,100,110,118,125,130,135,140,145,150,155,160,165,170,175,180,183,188,195,197,200,205,208,212,215,218,220,225,228,232,238,240,243,200,212,220,128,112,103,97,118,132,122,145,152,158,100,90,170,7]
mort_b = [55.2,43.4,44.3,37.1,38.3,37.8,35.2,33.9,32.9,31.6,30.2,30.5,29.3,28.9,28.9,28.5,27.8,27,27,26.8,24.5,25.5,24.8,24.5,23.9,24.2,22.1,21.2,21.5,19.8,22,22.2,20.9,21.9,20.6,20.6,19.6,20.2,19.2,18.4,18.4,18,20.1,18.2,19.2,18.7,18.9,18,18.1,17,16.8,16.8,16.3,16.6,16.1,15.5,15.2,15.4,14.4,15.8,14.3,13.3,14.1,14.4,13.6,13.4,14.2,14,13.7,13.9,12.6,13.6,12.3,11.2,12,12.8,11.2,11.2,10,10.5,11.6,11.2,10.7,10.9,10.8,10,10.3,9.8,10,9.5,8.9,8.4,8.9,8.1,8.6,9,8.9,7.9,8,8.1,8.3,7.2,6.5,7.6,6.5,7.2,6.2,6.5,6.7,5.8,5.3,5.3,5.3,4.8,3.5,4.3,4.1,5.5,5,3.4,3.6,3,4.6,3.4,3.1,2.7,2.2,1.8,1,1.3,0.6,0.4,0.8,1.3,1.1,1.9,2.6,2.5,1.2,1.2,0.7,0.3,0.8,0.6,2.2,4.1,5.5,7.7,7.2,9.4,9,9.2,7.3,7.3,9.8,7.9,7.4,8.6,3.6,3.2,4.1,3.2,6.5,6.5,
          7,3,10,3.5,8,1.5,4,11,3,8,5,2.5,8,11,6,4,11,7,9,5,12,4,9,14,6,12,16,9,12,14,11,6,14,15,18,19,5.5,7.5,4.5,5,9.5,10.5,1,6,2,10,8.5,5.5,2.5,0.7]
basal_area = [80,72,55,55,37,40,55,80,35,70,91,62,55,70,50,91,50,50,25,80,100,80,28,62,55,62,108,91,91,91,43,91,91,70,62,50,20,55,62,70,70,62,100,143,70,62,80,40,100,108,120,120,50,50,55,70,70,35,70,120,91,70,50,91,70,100,91,120,28,70,70,70,100,70,91,91,80,55,70,50,35,135,70,62,91,108,91,120,62,91,91,70,80,62,50,43,55,91,55,91,143,40,100,180,143,91,91,143,43,50,91,220,55,55,40,143,143,143,143,70,120,91,91,50,91,91,143,220,143,143,40,25,143,40,62,100,5,40,50,108,120,70,40,50,50,91,91,143,70,70,70,50,91,62,70,91,70,70,143,91,91,91,91,70,
              80,70,70,100,90,60,110,60,100,100,90,80,70,60,70,70,50,60,60,70,80,100,90,90,80,100,70,110,90,70,80,60,70,80,90,60,100,100,100,70,70,70,100,120,100,70,60,60,70,120]

THRESHOLDS = [41, 176, 367]
CLASS_LABELS = ["low", "moderate", "high"]
CLASS_X = [102.7, 269, 423]
CLASS_Y = 99.9
X_TICKS = [0, 100, 200, 300, 400]
Y_TICKS = [0, 25, 50, 75, 100]
LEG_A_VALUES = [1000, 2000, 3000]
LEG_A_Y = [49.2, 46.2, 42.35]
LEG_B_VALUES = [50, 100, 150]
LEG_B_Y = [49.1, 45.8, 41.7]
SCALE_TICKS = [0, 30, 60, 90]

# dNBR colour ramp: breakpoint, r, g, b
COL_BREAKS = [0, 70, 130, 200, 300, 430]
COL_RGB = [(0, 140, 60), (85, 140, 0), (168, 174, 0), (255, 216, 0), (255, 160, 0), (255, 42, 30)]
CMIN, CMAX = COL_BREAKS[0], COL_BREAKS[-1]
FILL_SCALE = [[(b - CMIN) / (CMAX - CMIN), f"rgba({r},{g},{bl},0.76)"] for b, (r, g, bl) in zip(COL_BREAKS, COL_RGB)]

FONT = "Liberation Sans"


def size_a(v):
    return 40 * (v / 1000) ** 0.4


def size_b(v):
    return 44 * (v / 50) ** 0.4


SHEETS = [(SHEET_NW, 0, 0), (SHEET_NE, 1750, 0), (SHEET_SW, 0, 800), (SHEET_SE, 1750, 800)]


def sheet_xy():
    xs, ys = [], []
    for sheet, ox, oy in SHEETS:
        for poly in sheet:
            px = [ox + v / 0.896 for v in poly[0::2]]
            py = [oy + v / 1.845 for v in poly[1::2]]
            xs += [(p - 126) * 0.24 for p in px] + [(px[0] - 126) * 0.24, None]
            ys += [(1482 - p) * 0.2408 for p in py] + [(1482 - py[0]) * 0.2408, None]
    return xs, ys


fig = go.Figure()

# map
z = [[CELL_CODE[c] for c in row] for row in reversed(CELL_ROWS)]
fig.add_trace(go.Heatmap(
    x=X_EDGES, y=Y_EDGES, z=z, zmin=0, zmax=3, showscale=False, hoverinfo="skip",
    colorscale=[[0, "#FF1919"], [0.25, "#FF1919"], [0.25, "#FFFF00"], [0.5, "#FFFF00"],
                [0.5, "#8CFF82"], [0.75, "#8CFF82"], [0.75, "#007B00"], [1, "#007B00"]],
    xaxis="x", yaxis="y"))
gx, gy = [], []
for e in X_EDGES[1:-1]:
    gx += [e, e, None]
    gy += [Y_EDGES[0], Y_EDGES[-1], None]
for e in Y_EDGES[1:-1]:
    gx += [X_EDGES[0], X_EDGES[-1], None]
    gy += [e, e, None]
fig.add_trace(go.Scatter(x=gx, y=gy, mode="lines", line=dict(color="rgba(130,130,130,0.65)", width=3),
                         hoverinfo="skip", xaxis="x", yaxis="y"))
px_, py_ = sheet_xy()
fig.add_trace(go.Scatter(x=px_, y=py_, mode="lines", fill="toself", fillcolor="#00E000",
                         line=dict(color="#3f3f3f", width=2.5), hoverinfo="skip", xaxis="x", yaxis="y"))
fig.add_trace(go.Scatter(x=BOUNDARY_X, y=BOUNDARY_Y, mode="lines", line=dict(color="black", width=14),
                         hoverinfo="skip", xaxis="x", yaxis="y"))


def bubbles(x, y, sizes, xa, ya):
    fig.add_trace(go.Scatter(
        x=x, y=y, mode="markers", xaxis=xa, yaxis=ya, hoverinfo="skip",
        marker=dict(size=sizes, sizemode="diameter", color=x, colorscale=FILL_SCALE, cmin=CMIN, cmax=CMAX,
                    showscale=False, opacity=1,
                    line=dict(width=3, color=x, colorscale=FILL_SCALE, cmin=CMIN, cmax=CMAX))))


bubbles(dnbr_a, mort_a, [size_a(v) for v in density], "x2", "y2")
bubbles(dnbr_b, mort_b, [size_b(v) for v in basal_area], "x3", "y3")

# size keys
LEG_A_X, LEG_B_X = 389, 391.7
for xv, ys_, vals, sz, xa, ya in [
    (LEG_A_X, LEG_A_Y, LEG_A_VALUES, size_a, "x2", "y2"),
    (LEG_B_X, LEG_B_Y, LEG_B_VALUES, size_b, "x3", "y3"),
]:
    fig.add_trace(go.Scatter(
        x=[xv] * 3, y=ys_, mode="markers", xaxis=xa, yaxis=ya, hoverinfo="skip",
        marker=dict(size=[sz(v) for v in vals], color="rgba(25,25,25,0.8)", opacity=1,
                    line=dict(width=3, color="rgba(25,25,25,0.8)"))))

ann = []


def label(x, y, text, xr, yr, size, anchor="center"):
    ann.append(dict(x=x, y=y, xref=xr, yref=yr, text=text, showarrow=False, xanchor=anchor, yanchor="middle",
                    font=dict(family=FONT, size=size, color="black")))


for t in SCALE_TICKS:
    label(t, -8.7, str(t), "x", "y", 66)
label(94.5, -25.3, "Meters", "x", "y", 68, "left")

for xr, yr, leg_y, vals, leg_x, lines in [
    ("x2", "y2", LEG_A_Y, LEG_A_VALUES, 406.4, [(375.9, 59.55, 49, "pre-fire"), (375.9, 56.6, 49, "density"),
                                                (370.2, 52.85, 52, "(stems ha<sup>−1</sup>)")]),
    ("x3", "y3", LEG_B_Y, LEG_B_VALUES, 409, [(377.4, 59.55, 49, "pre-fire"), (377.4, 56.5, 49, "basal area"),
                                              (377.4, 52.8, 52, "(m<sup>2</sup> ha<sup>−1</sup>)")]),
]:
    for name, cx in zip(CLASS_LABELS, CLASS_X):
        label(cx, CLASS_Y, name, xr, yr, 58)
    for v, yy in zip(vals, leg_y):
        label(leg_x, yy, str(v), xr, yr, 41, "left")
    for lx, ly, fs, txt in lines:
        label(lx, ly, txt, xr, yr, fs, "left")

shapes = [
    dict(type="rect", xref="x", yref="y", x0=-0.5, x1=91, y0=-31.6, y1=-21.9, fillcolor="black", line_width=0),
    dict(type="rect", xref="x", yref="y", x0=30, x1=60, y0=-29.9, y1=-23.6, fillcolor="white", line_width=0),
]
for xr, yr in [("x2", "y2"), ("x3", "y3")]:
    for th in THRESHOLDS:
        shapes.append(dict(type="line", xref=xr, yref=yr, x0=th, x1=th, y0=105, y1=-5, layer="below",
                           line=dict(color="#7f7f7f", width=7, dash="28px,27.5px")))


def dom_x(a, b):
    return [a / W, b / W]


def dom_y(top, bottom):
    return [1 - bottom / H, 1 - top / H]


PANEL_RANGE_X = [-22, 472.6]
PANEL_RANGE_Y = [-5, 105]


def panel_x(a, b):
    return dict(domain=dom_x(a, b), range=PANEL_RANGE_X, tickvals=X_TICKS, ticks="outside", ticklen=7, tickwidth=3,
                tickcolor="black", showline=True, linecolor="black", linewidth=3, mirror=True, showgrid=False,
                zeroline=False, tickfont=dict(family=FONT, size=43, color="black"), ticklabelstandoff=-5,
                title=dict(text="Severity (dNBR)", standoff=0, font=dict(family=FONT, size=51, color="black")))


def panel_y(a):
    return dict(domain=dom_y(1711, 3664), range=PANEL_RANGE_Y, tickvals=Y_TICKS, ticks="outside", ticklen=7,
                tickwidth=3, tickcolor="black", showline=True, linecolor="black", linewidth=3, mirror=True,
                showgrid=False, zeroline=False, tickfont=dict(family=FONT, size=43, color="black"),
                ticklabelstandoff=7, anchor=a,
                title=dict(text="Observed mortality rate (%)", standoff=8,
                           font=dict(family=FONT, size=50, color="black")))


fig.update_layout(
    width=W, height=H, autosize=False, showlegend=False, paper_bgcolor="white", plot_bgcolor="white",
    margin=dict(l=0, r=0, t=0, b=0), shapes=shapes, annotations=ann,
    xaxis=dict(domain=[0, 1], range=[-30.24, 808.8], visible=False, fixedrange=True),
    yaxis=dict(domain=dom_y(0, 1700), range=[-52.5, 356.9], visible=False, fixedrange=True),
    xaxis2=dict(panel_x(201, 1721), anchor="y2"),
    yaxis2=panel_y("x2"),
    xaxis3=dict(panel_x(1936, 3458), anchor="y3"),
    yaxis3=panel_y("x3"),
)

fig.write_html("out.html", config=dict(displayModeBar=False),
               post_script="document.body.style.margin='0';")
